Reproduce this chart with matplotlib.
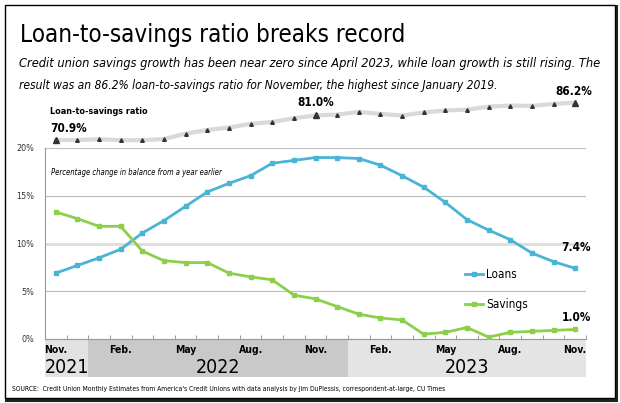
import matplotlib
matplotlib.use("Agg")
import matplotlib.pyplot as plt
from matplotlib import font_manager as fm
from matplotlib.patches import Rectangle
import matplotlib.transforms as mtransforms

# monthly data, Nov 2021 .. Nov 2023
loans = [6.9, 7.7, 8.5, 9.4, 11.1, 12.4, 13.9, 15.4, 16.3, 17.1, 18.4, 18.7, 19.0,
         19.0, 18.9, 18.2, 17.1, 15.9, 14.3, 12.5, 11.4, 10.4, 9.0, 8.1, 7.4]
savings = [13.3, 12.6, 11.8, 11.8, 9.2, 8.2, 8.0, 8.0, 6.9, 6.5, 6.2, 4.6, 4.2,
           3.4, 2.6, 2.2, 2.0, 0.5, 0.7, 1.2, 0.2, 0.7, 0.8, 0.9, 1.0]
ratio = [70.9, 70.9, 71.2, 70.8, 70.8, 71.3, 73.5, 75.0, 76.0, 77.5, 78.3, 79.8, 81.0,
         81.3, 82.4, 81.6, 80.9, 82.2, 83.0, 83.3, 84.6, 85.0, 84.9, 85.7, 86.2]
month_labels = ["Nov.", "Feb.", "May", "Aug.", "Nov.", "Feb.", "May", "Aug.", "Nov."]
year_labels = ["2021", "2022", "2023"]
y_ticks = [0, 5, 10, 15, 20]

W, H = 620, 403
LOAN_C = '#4ab4d6'
SAV_C = '#8dcf4a'


# look for a narrow font, else fall back to Liberation Sans
def pick_fonts():
    files = [f.fname for f in fm.fontManager.ttflist]
    sets = [("liberationsansnarrow-regular", "liberationsansnarrow-bold", "liberationsansnarrow-italic"),
            ("dejavusanscondensed.ttf", "dejavusanscondensed-bold.ttf", "dejavusanscondensed-oblique.ttf"),
            ("robotocondensed-regular", "robotocondensed-bold", "robotocondensed-italic")]
    for keys in sets:
        found = []
        for k in keys:
            hit = [p for p in files if k in p.lower().replace(" ", "")]
            found.append(hit[0] if hit else None)
        if all(found):
            return {n: fm.FontProperties(fname=p) for n, p in zip(("r", "b", "i"), found)}
    return {"r": fm.FontProperties(family="Liberation Sans"),
            "b": fm.FontProperties(family="Liberation Sans", weight="bold"),
            "i": fm.FontProperties(family="Liberation Sans", style="italic")}


FONTS = pick_fonts()


def fp(kind, size):
    p = FONTS[kind].copy()
    p.set_size(size)
    return p


fig = plt.figure(figsize=(W / 100, H / 100), dpi=100)
renderer = fig.canvas.get_renderer()


def px(x, y):
    return x / W, 1 - y / H


def fit(t, width):
    # scale font so the text is as wide as in the reference
    w = t.get_window_extent(renderer).width
    t.set_fontsize(t.get_fontsize() * width / w)


def ftext(x, y, s, kind, size, width=None, **kw):
    t = fig.text(x / W, 1 - y / H, s, fontproperties=fp(kind, size), **kw)
    if width:
        fit(t, width)
    return t


# frame with a small shadow
fig.patches.append(Rectangle(px(6, 399.5), 609.5 / W, 394 / H, transform=fig.transFigure,
                             fill=False, ec='#222222', lw=2.2, zorder=-2))
fig.patches.append(Rectangle(px(4.5, 397.5), 610 / W, 393 / H, transform=fig.transFigure,
                             fc='white', ec='black', lw=1.0, zorder=-1))

# titles
ftext(20, 42, "Loan-to-savings ratio breaks record", "r", 24, width=385, va='baseline')
ftext(19, 67, "Credit union savings growth has been near zero since April 2023, while loan growth is still rising. The",
      "i", 10.6, width=584, va='baseline')
ftext(19, 89, "result was an 86.2% loan-to-savings ratio for November, the highest since January 2019.",
      "i", 10.6, width=482, va='baseline')

x = list(range(len(loans)))

# main chart
left, right = 45, 586
ax = fig.add_axes([left / W, 1 - 339 / H, (right - left) / W, 191 / H])
ax.plot(x, loans, color=LOAN_C, lw=2.0, marker='s', ms=2.2, label='Loans', zorder=3)
ax.plot(x, savings, color=SAV_C, lw=2.0, marker='s', ms=2.2, label='Savings', zorder=3)
ax.set_xlim(-0.5, 24.5)
ax.set_ylim(0, 20)
ax.set_yticks(y_ticks)
ax.set_yticklabels([f"{v}%" for v in y_ticks], fontproperties=fp("r", 6.5), color='#333333')
ax.tick_params(axis='y', length=0, pad=8)
ax.set_xticks([i - 0.5 for i in range(len(loans) + 1)])
ax.set_xticklabels([])
ax.tick_params(axis='x', direction='in', length=3, color='#999999', width=0.7)
ax.grid(axis='y', color='#bdbdbd', lw=0.8)
gl = ax.get_ygridlines()
gl[2].set_color('#dddddd')
gl[2].set_linewidth(2.0)
for s in ['top', 'right']:
    ax.spines[s].set_visible(False)
for s in ['left', 'bottom']:
    ax.spines[s].set_color('#999999')
    ax.spines[s].set_linewidth(0.8)

t = ax.text(0.012, 0.87, "Percentage change in balance from a year earlier", transform=ax.transAxes,
            fontproperties=fp("i", 7), va='center')
fit(t, 172)
ax.annotate(f"{loans[-1]}%", (x[-1], loans[-1]), xytext=(1, 14), textcoords='offset pixels',
            ha='center', va='bottom', fontproperties=fp("b", 8.5))
ax.annotate(f"{savings[-1]}%", (x[-1], savings[-1]), xytext=(1, 5), textcoords='offset pixels',
            ha='center', va='bottom', fontproperties=fp("b", 8.5))

ax.legend(loc='center left', bbox_to_anchor=(0.776, 0.259), frameon=False, prop=fp("r", 8.5),
          handlelength=1.5, handletextpad=0.3, labelspacing=1.5, borderpad=0, borderaxespad=0)

# date band under the chart
tr = mtransforms.blended_transform_factory(ax.transData, ax.transAxes)
band_top, band_bot = -0.006, -0.199
bands = [(-0.5, 1.5, '#e2e2e2'), (1.5, 13.5, '#c9c9c9'), (13.5, 24.5, '#e4e4e4')]
for (x0, x1, c), yl in zip(bands, year_labels):
    ax.add_patch(Rectangle((x0, band_bot), x1 - x0, band_top - band_bot, transform=tr,
                           fc=c, ec='none', clip_on=False))
    ax.text((x0 + x1) / 2, -0.148, yl, transform=tr, ha='center', va='center', fontproperties=fp("r", 14))
for i, m in enumerate(month_labels):
    ax.text(i * 3, -0.058, m, transform=tr, ha='center', va='center', fontproperties=fp("b", 7.5))

# loan-to-savings ratio strip
ax2 = fig.add_axes([left / W, 1 - 148 / H, (right - left) / W, 53 / H])
ax2.plot(x, ratio, color='#d9d9d9', lw=3.0, zorder=1)
ax2.plot(x, ratio, ls='none', marker='^', ms=2.6, color='#333333', zorder=2)
big = [0, 12, 24]
ax2.plot(big, [ratio[i] for i in big], ls='none', marker='^', ms=5, color='#333333', zorder=3)
ax2.set_xlim(-0.5, 24.5)
ax2.set_ylim(67.6, 89.35)
ax2.axis('off')
t = ax2.text(-0.25, 82.4, "Loan-to-savings ratio", fontproperties=fp("b", 7.5), va='center')
fit(t, 97)
ax2.text(-0.25, 75.8, f"{ratio[0]}%", fontproperties=fp("b", 8.5), va='center')
ax2.annotate(f"{ratio[12]}%", (12, ratio[12]), xytext=(0, 6), textcoords='offset pixels',
             ha='center', va='bottom', fontproperties=fp("b", 8.5))
ax2.annotate(f"{ratio[24]}%", (24, ratio[24]), xytext=(-1, 5), textcoords='offset pixels',
             ha='center', va='bottom', fontproperties=fp("b", 8.5))

ftext(12, 389, "SOURCE:  Credit Union Monthly Estimates from America's Credit Unions with data analysis by "
      "Jim DuPlessis, correspondent-at-large, CU Times", "r", 5.6, width=430, va='center')

fig.savefig("out.png", dpi=100)
